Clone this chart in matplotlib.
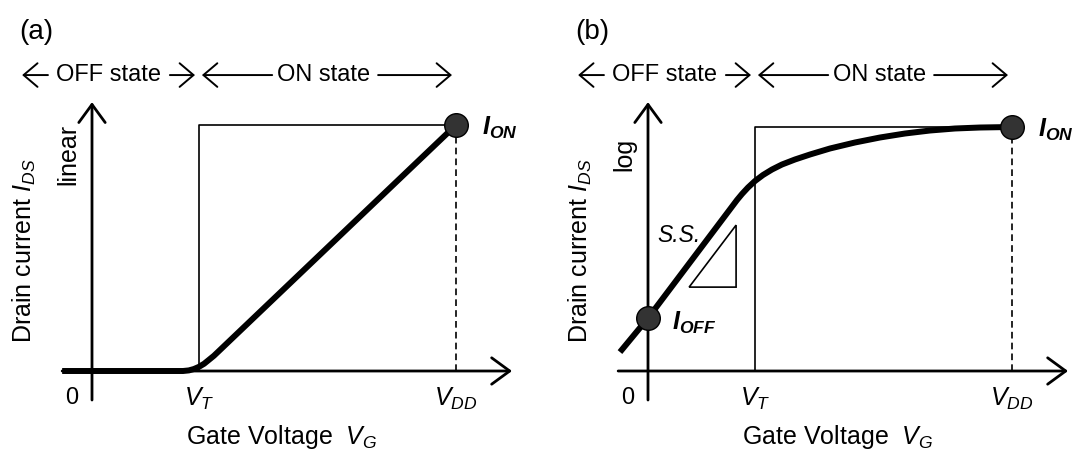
import matplotlib
matplotlib.use("Agg")
import matplotlib.pyplot as plt
from matplotlib.patches import Polygon

plt.rcParams.update({
    "font.family": "Liberation Sans",
    "mathtext.fontset": "custom",
    "mathtext.rm": "Liberation Sans",
    "mathtext.it": "Liberation Sans:italic",
    "mathtext.bf": "Liberation Sans:bold",
    "mathtext.bfit": "Liberation Sans:bold:italic",
})

# gate voltages, normalised so that V_DD = 1
V_T = 0.294
V_DD = 1.0

# (a) drain current on a linear scale
VG_LIN = [-0.082, 0.25, 0.266, 0.280, 0.294, 0.308, 0.321, 0.335, 1.0]
ID_LIN = [0.0, 0.0, 0.0024, 0.0081, 0.0171, 0.0295, 0.0451, 0.062, 1.0]
ION_LIN = 1.0

# (b) drain current on a log scale
VG_LOG = [-0.077, 0.0, 0.2445, 0.2582, 0.2747, 0.2940, 0.3159, 0.3407, 0.3681,
          0.4038, 0.4451, 0.5, 0.5687, 0.6374, 0.7060, 0.7747, 0.8434, 0.9121, 1.0]
ID_LOG = [0.077, 0.215, 0.6951, 0.7195, 0.7459, 0.7724, 0.7967, 0.8191, 0.8394,
          0.8598, 0.8801, 0.9045, 0.9289, 0.9492, 0.9654, 0.9776, 0.9858, 0.9898, 0.9919]
ION_LOG = 0.9919
IOFF_LOG = 0.215

# subthreshold-slope triangle
SS_TRI_X = [0.113, 0.242, 0.242]
SS_TRI_Y = [0.341, 0.341, 0.593]

# layout: pixels per unit and pixel anchors of each panel origin
FIG_W, FIG_H = 1077, 455
PX_PER_V = 364
PX_PER_I = 246
BASE_Y = 371
ORIGINS = [92, 648]

X_AXIS = (-0.082, 1.154)
Y_AXIS = (-0.118, 1.093)
HEADER_Y = 1.203


def panel_axes(fig, origin_x):
    ax = fig.add_axes([0, 0, 1, 1])
    ax.set_xlim(-origin_x / PX_PER_V, (FIG_W - origin_x) / PX_PER_V)
    ax.set_ylim(-(FIG_H - BASE_Y) / PX_PER_I, BASE_Y / PX_PER_I)
    ax.axis("off")
    return ax


def arrow(ax, start, end, lw, hl, hw):
    ax.annotate(
        "", xy=end, xytext=start,
        arrowprops=dict(arrowstyle=f"->,head_length={hl},head_width={hw}",
                        lw=lw, color="black", shrinkA=0, shrinkB=0),
    )


def state_header(ax):
    y = HEADER_Y
    arrow(ax, (-0.121, y), (-0.192, y), 1.4, 1.0, 0.85)
    ax.text(0.045, y, "OFF state", ha="center", va="center", fontsize=17)
    arrow(ax, (0.214, y), (V_T - 0.011, y), 1.4, 1.0, 0.85)
    arrow(ax, (0.495, y), (V_T + 0.008, y), 1.4, 1.0, 0.85)
    ax.text(0.637, y, "ON state", ha="center", va="center", fontsize=17)
    arrow(ax, (0.786, y), (V_DD - 0.011, y), 1.4, 1.0, 0.85)


def draw_panel(ax, vg, ids, i_on, scale_label, tag):
    arrow(ax, (X_AXIS[0], 0), (X_AXIS[1], 0), 2, 1.3, 0.95)
    arrow(ax, (0, Y_AXIS[0]), (0, Y_AXIS[1]), 2, 1.3, 0.95)
    ax.plot([V_T, V_T, V_DD], [0, i_on, i_on], color="black", lw=1.2)
    ax.plot([V_DD, V_DD], [0, i_on], color="black", lw=1.2, dashes=(4, 2.5))
    ax.plot(vg, ids, color="black", lw=4.3, solid_capstyle="butt",
            solid_joinstyle="round", zorder=3)
    ax.plot([V_DD], [i_on], "o", ms=17, mfc="#333333", mec="black", mew=1, zorder=4)
    ax.text(1.071, i_on - 0.01, r"$\mathbfit{I}_{\mathbfit{ON}}$", fontsize=18,
            ha="left", va="center")

    state_header(ax)
    ax.text(-0.055, -0.11, "0", ha="center", va="center", fontsize=17)
    ax.text(V_T, -0.06, r"$V_T$", ha="center", va="top", fontsize=18)
    ax.text(V_DD, -0.06, r"$V_{DD}$", ha="center", va="top", fontsize=18)
    ax.text(0.52, -0.268, r"Gate Voltage  $V_G$", ha="center", va="center", fontsize=18)
    ax.text(-0.187, 0.49, r"Drain current $I_{DS}$", ha="center", va="center",
            rotation=90, fontsize=18)
    ax.text(-0.066, 0.88, scale_label, ha="center", va="center", rotation=90, fontsize=18)
    ax.text(-0.154, 1.378, tag, ha="center", va="center", fontsize=20)


fig = plt.figure(figsize=(FIG_W / 100, FIG_H / 100), dpi=100)

ax_a = panel_axes(fig, ORIGINS[0])
draw_panel(ax_a, VG_LIN, ID_LIN, ION_LIN, "linear", "(a)")

ax_b = panel_axes(fig, ORIGINS[1])
draw_panel(ax_b, VG_LOG, ID_LOG, ION_LOG, "log", "(b)")
ax_b.plot([0], [IOFF_LOG], "o", ms=17, mfc="#333333", mec="black", mew=1, zorder=4)
ax_b.text(0.066, IOFF_LOG - 0.02, r"$\mathbfit{I}_{\mathbfit{OFF}}$", fontsize=18,
          ha="left", va="center")
ax_b.add_patch(Polygon(list(zip(SS_TRI_X, SS_TRI_Y)), closed=True, fill=False,
                       edgecolor="black", lw=1.2))
ax_b.text(0.085, 0.549, "S.S.", style="italic", ha="center", va="center", fontsize=16.5)

fig.savefig("out.png", dpi=100)
